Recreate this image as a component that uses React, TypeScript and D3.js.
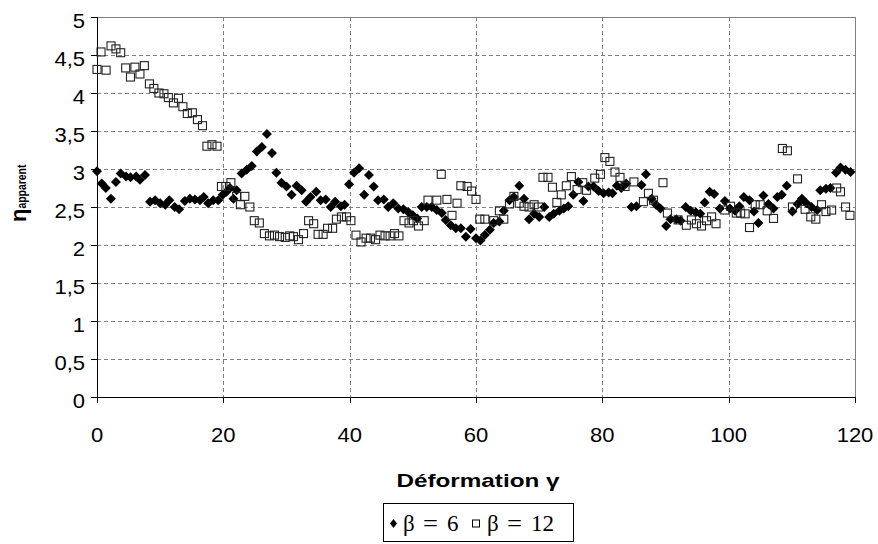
import React from "react";
import * as d3 from "d3";

const beta6Gamma = [0,0.74,1.4,2.2,3.0,3.75,4.6,5.3,6.2,6.8,7.6,8.4,9.2,10.0,10.8,11.45,12.3,13.0,13.9,14.7,15.5,16.3,16.9,17.6,18.4,19.2,19.9,20.5,21.05,21.6,22.1,22.9,23.7,24.5,25.3,26.1,26.9,27.7,28.4,29.2,30.0,30.8,31.6,32.4,33.1,33.8,34.7,35.4,36.2,37.0,37.7,38.6,39.2,39.9,40.7,41.5,42.3,43.05,43.8,44.5,45.4,46.1,46.9,47.7,48.5,49.3,50.0,50.7,51.4,52.2,53.0,53.8,54.6,55.2,56.0,56.8,57.6,58.4,59.15,60.0,60.7,61.4,62.2,62.8,63.7,64.4,65.3,66.0,66.85,67.6,68.4,69.2,70.0,70.8,71.6,72.3,73.2,73.9,74.6,75.4,76.2,77.0,77.8,78.6,79.4,80.2,81.0,81.6,82.3,83.0,83.8,84.6,85.4,86.2,86.9,87.8,88.5,89.2,90.1,90.8,91.7,92.4,93.2,94.0,94.8,95.5,96.2,97.0,97.7,98.6,99.4,100.2,101.0,101.7,102.4,103.3,104.0,104.7,105.5,106.3,107.1,107.7,108.4,109.2,110.1,110.9,111.6,112.3,113.1,114.0,114.5,115.4,116.1,117.0,117.7,118.5,119.3];
const beta6Eta = [2.97,2.81,2.75,2.61,2.83,2.94,2.9,2.89,2.9,2.86,2.92,2.57,2.59,2.55,2.53,2.59,2.5,2.47,2.58,2.61,2.6,2.59,2.63,2.55,2.59,2.59,2.66,2.7,2.75,2.61,2.72,2.94,2.99,3.04,3.23,3.29,3.46,3.21,2.95,2.82,2.77,2.66,2.78,2.72,2.57,2.63,2.7,2.59,2.6,2.5,2.57,2.51,2.53,2.8,2.95,3.01,2.66,2.92,2.77,2.59,2.6,2.5,2.55,2.48,2.47,2.43,2.39,2.35,2.5,2.5,2.5,2.46,2.42,2.33,2.26,2.22,2.22,2.11,2.21,2.09,2.06,2.13,2.2,2.29,2.31,2.45,2.59,2.63,2.78,2.61,2.34,2.41,2.37,2.5,2.37,2.41,2.45,2.48,2.51,2.66,2.83,2.58,2.77,2.77,2.71,2.68,2.69,2.68,2.78,2.75,2.81,2.5,2.51,2.79,2.93,2.61,2.53,2.48,2.25,2.34,2.34,2.32,2.5,2.45,2.43,2.41,2.56,2.7,2.67,2.48,2.58,2.48,2.45,2.51,2.63,2.59,2.44,2.29,2.65,2.54,2.48,2.63,2.66,2.78,2.44,2.54,2.61,2.55,2.5,2.46,2.72,2.74,2.75,2.95,3.02,2.99,2.96];

const beta12Gamma = [0,0.64,1.44,2.22,3.0,3.75,4.54,5.3,6.0,6.8,7.5,8.3,9.0,9.8,10.6,11.3,12.1,12.9,13.6,14.3,15.1,15.9,16.7,17.4,18.2,19.0,19.7,20.4,21.2,22.1,22.7,23.4,24.2,24.9,25.7,26.5,27.3,28.1,28.9,29.8,30.5,31.1,31.9,32.7,33.5,34.3,35.0,35.8,36.5,37.3,37.9,38.7,39.5,40.2,41.0,41.8,42.6,43.3,44.1,44.8,45.6,46.4,47.1,47.8,48.6,49.4,50.1,50.9,51.8,52.4,53.8,54.5,55.4,56.2,57.0,57.6,58.6,59.3,60.0,60.6,61.4,62.8,63.7,64.4,65.3,66.0,66.85,67.6,68.4,69.2,69.9,70.6,71.4,72.1,72.8,73.5,74.3,75.1,76.0,76.9,77.5,78.8,79.7,80.4,81.2,82.0,82.8,83.6,85.0,86.5,87.3,88.1,89.6,90.3,92.0,93.3,94.1,94.9,95.7,96.5,97.3,98.0,99.4,100.3,101.2,101.9,102.6,103.3,104.2,105.0,106.1,107.1,108.5,109.3,110.1,110.9,112.1,113.0,113.8,114.7,115.4,116.3,117.1,117.7,118.5,119.2];
const beta12Eta = [4.31,4.54,4.3,4.62,4.58,4.53,4.33,4.21,4.34,4.25,4.36,4.12,4.06,4.0,3.99,3.94,3.87,3.93,3.82,3.73,3.74,3.65,3.57,3.3,3.32,3.3,2.77,2.77,2.82,2.64,2.53,2.64,2.5,2.32,2.29,2.15,2.12,2.13,2.11,2.1,2.12,2.11,2.07,2.15,2.32,2.28,2.14,2.14,2.22,2.22,2.34,2.37,2.37,2.32,2.13,2.04,2.09,2.09,2.07,2.13,2.12,2.12,2.15,2.12,2.32,2.29,2.32,2.25,2.32,2.59,2.59,2.93,2.6,2.39,2.55,2.78,2.77,2.71,2.6,2.34,2.34,2.32,2.45,2.34,2.54,2.64,2.55,2.51,2.5,2.53,2.5,2.89,2.89,2.76,2.56,2.66,2.78,2.9,2.73,2.82,2.72,2.88,2.93,3.15,3.1,2.96,2.89,2.77,2.83,2.57,2.68,2.59,2.82,2.42,2.33,2.26,2.33,2.28,2.25,2.32,2.37,2.28,2.46,2.51,2.42,2.42,2.41,2.23,2.53,2.53,2.45,2.35,3.27,3.24,2.5,2.87,2.47,2.37,2.34,2.53,2.44,2.46,2.75,2.7,2.5,2.39];

const xTicks = [0, 20, 40, 60, 80, 100, 120];
const yTicks = [0, 0.5, 1, 1.5, 2, 2.5, 3, 3.5, 4, 4.5, 5];
const xTitle = "Déformation γ";
const legendValues = ["6", "12"];

const W = 878, H = 544;
const L = 97, R = 855, T = 17, B = 397;

export default function App() {
  const x = d3.scaleLinear().domain([0, 120]).range([L, R]);
  const y = d3.scaleLinear().domain([0, 5]).range([B, T]);
  const fmt = (v: number) => String(v).replace(".", ",");
  const sans = "'Liberation Sans', Arial, sans-serif";
  const serif = "'Liberation Serif', 'Times New Roman', serif";
  const diamond = "M0,-5L5,0L0,5L-5,0Z";
  const legendItem = (x0: number, val: string) => (
    <g fontFamily={serif} fontSize={23} fill="#000">
      <text x={x0} y={531}>β</text>
      <text x={x0 + 20} y={531} textLength={15} lengthAdjust="spacingAndGlyphs">=</text>
      <text x={x0 + 44} y={531}>{val}</text>
    </g>
  );
  return (
    <svg width={W} height={H} style={{ position: "absolute", left: 0, top: 0, background: "#fff" }}>
      <rect x={0} y={0} width={W} height={H} fill="#fff" />
      {yTicks.filter(v => v > 0 && v < 5).map(v => (
        <line key={"gy" + v} x1={L} x2={R} y1={Math.round(y(v)) + 0.5} y2={Math.round(y(v)) + 0.5}
          stroke="#808080" strokeDasharray="4,3" strokeWidth={1} />
      ))}
      {xTicks.filter(v => v > 0 && v < 120).map(v => (
        <line key={"gx" + v} y1={T} y2={B} x1={Math.round(x(v)) + 0.5} x2={Math.round(x(v)) + 0.5}
          stroke="#808080" strokeDasharray="4,3" strokeWidth={1} />
      ))}
      <line x1={L} x2={R + 0.5} y1={T + 0.5} y2={T + 0.5} stroke="#808080" />
      <line x1={R + 0.5} x2={R + 0.5} y1={T} y2={B} stroke="#808080" />
      <line x1={L + 0.5} x2={L + 0.5} y1={T} y2={B + 1} stroke="#000" />
      <line x1={L} x2={R + 1} y1={B + 0.5} y2={B + 0.5} stroke="#000" />
      {yTicks.map(v => (
        <g key={"yt" + v}>
          <line x1={L - 6} x2={L} y1={Math.round(y(v)) + 0.5} y2={Math.round(y(v)) + 0.5} stroke="#000" />
          <text transform={`translate(85,${y(v) + 11}) scale(1.1,1)`} textAnchor="end"
            fontFamily={sans} fontSize={20} fill="#000">{fmt(v)}</text>
        </g>
      ))}
      {xTicks.map(v => (
        <g key={"xt" + v}>
          <line x1={Math.round(x(v)) + 0.5} x2={Math.round(x(v)) + 0.5} y1={B} y2={B + 6} stroke="#000" />
          <text transform={`translate(${x(v)},442) scale(1.1,1)`} textAnchor="middle"
            fontFamily={sans} fontSize={20} fill="#000">{fmt(v)}</text>
        </g>
      ))}
      {beta6Gamma.map((g, i) => (
        <path key={"d" + i} d={diamond} transform={`translate(${x(g)},${y(beta6Eta[i])})`} fill="#000" />
      ))}
      {beta12Gamma.map((g, i) => (
        <rect key={"s" + i} x={x(g) - 4} y={y(beta12Eta[i]) - 4} width={8} height={8}
          fill="none" stroke="#222" strokeWidth={1.1} />
      ))}
      <text x={478} y={487} textAnchor="middle" fontFamily={sans} fontWeight="bold" fontSize={19}
        textLength={163} lengthAdjust="spacingAndGlyphs">{xTitle}</text>
      <text transform="translate(26,222) rotate(-90)" fontFamily={sans} fontWeight="bold">
        <tspan fontSize={22}>η</tspan>
        <tspan fontSize={13} textLength={44} lengthAdjust="spacingAndGlyphs">apparent</tspan>
      </text>
      <rect x={383.5} y={503.5} width={190} height={38} fill="#fff" stroke="#000" />
      <path d="M0,-4.5L3.5,0L0,4.5L-3.5,0Z" transform="translate(393.5,523.5)" fill="#000" />
      {legendItem(403, legendValues[0])}
      <rect x={472.5} y={520} width={7} height={7} fill="none" stroke="#000" />
      {legendItem(487, legendValues[1])}
    </svg>
  );
}
